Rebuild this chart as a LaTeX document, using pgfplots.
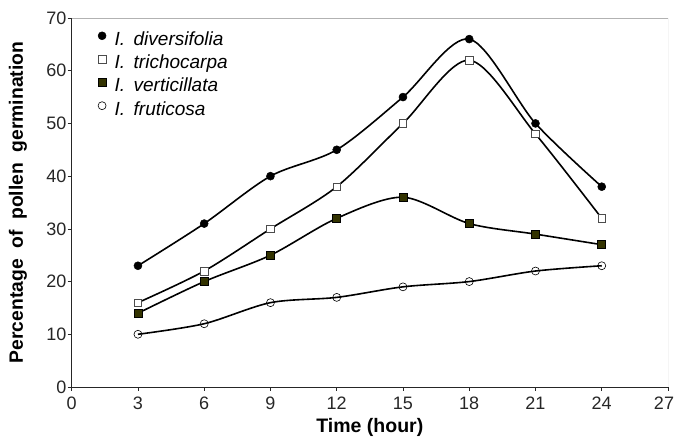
\documentclass[border=0pt]{standalone}
\usepackage{fontspec}
\setmainfont{Liberation Sans}
\usepackage{pgfplots}
\pgfplotsset{compat=1.18}
\definecolor{darkolive}{HTML}{333300}
\begin{document}
\begin{tikzpicture}
\begin{axis}[
  scale only axis, width=596.3pt, height=369pt,
  xmin=0, xmax=27, ymin=0, ymax=70,
  xtick={0,3,...,27}, ytick={0,10,...,70},
  xticklabels={0,3,6,9,12,15,18,21,24,\hspace*{-8pt}27},
  axis x line*=bottom, axis y line*=left,
  axis line style={-, line width=0.9pt, black!85},
  tick style={black!85, line width=0.6pt},
  tick align=outside, major tick length=4pt,
  tick label style={font=\fontsize{18}{21}\selectfont, text=black!85},
  xticklabel style={inner sep=1pt, yshift=-5pt},
  yticklabel style={inner sep=1pt},
  /pgf/number format/assume math mode=true,
  xlabel={Time (hour)},
  ylabel={Percentage\hspace{0.55em}of\hspace{0.55em}pollen\hspace{0.55em}germination},
  xlabel style={font=\bfseries\fontsize{19.5}{22}\selectfont,
    at={(axis description cs:0.5,0)}, anchor=base, yshift=-45.5pt},
  ylabel style={font=\bfseries\fontsize{19.3}{22}\selectfont,
    at={(axis description cs:0,0.5)}, anchor=center, yshift=53.7pt},
  legend style={at={(axis cs:1.05,67.8)}, anchor=north west, draw=none, fill=none,
    font=\itshape\fontsize{19}{22}\selectfont, row sep=5.3pt, column sep=8pt,
    nodes={inner sep=0.5pt, text height=13pt, text depth=4pt}},
  legend cell align=left,
  legend image code/.code={\draw[#1,only marks] plot coordinates {(0pt,5pt)};},
]
\addplot[smooth, line width=1.6pt, black, mark=*, mark size=4pt,
  mark options={solid, fill=black, line width=0.5pt}]
  coordinates {(3,23) (6,31) (9,40) (12,45) (15,55) (18,66) (21,50) (24,38)};
\addlegendentry{I.\hspace{0.45em}diversifolia}
\addplot[smooth, line width=1.6pt, black, mark=square*, mark size=3.8pt,
  mark options={solid, fill=white, draw=black!70, line width=0.6pt}]
  coordinates {(3,16) (6,22) (9,30) (12,38) (15,50) (18,62) (21,48) (24,32)};
\addlegendentry{I.\hspace{0.45em}trichocarpa}
\addplot[smooth, line width=1.6pt, black, mark=square*, mark size=4pt,
  mark options={solid, fill=darkolive, draw=black, line width=0.6pt}]
  coordinates {(3,14) (6,20) (9,25) (12,32) (15,36) (18,31) (21,29) (24,27)};
\addlegendentry{I.\hspace{0.45em}verticillata}
\addplot[smooth, line width=1.6pt, black, mark=o, mark size=4pt,
  mark options={solid, fill=white, draw=black, line width=0.6pt}]
  coordinates {(3,10) (6,12) (9,16) (12,17) (15,19) (18,20) (21,22) (24,23)};
\addlegendentry{I.\hspace{0.45em}fruticosa}
\draw[gray!60, line width=0.9pt] (rel axis cs:0,1) -- (rel axis cs:1,1) -- (rel axis cs:1,0);
\coordinate (bl) at (rel axis cs:0,0);
\coordinate (tr) at (rel axis cs:1,1);
\end{axis}
\pgfresetboundingbox
\path (bl) ++(-71.7pt,-50pt) rectangle ([shift={(6pt,18pt)}]tr);
\end{tikzpicture}
\end{document}
